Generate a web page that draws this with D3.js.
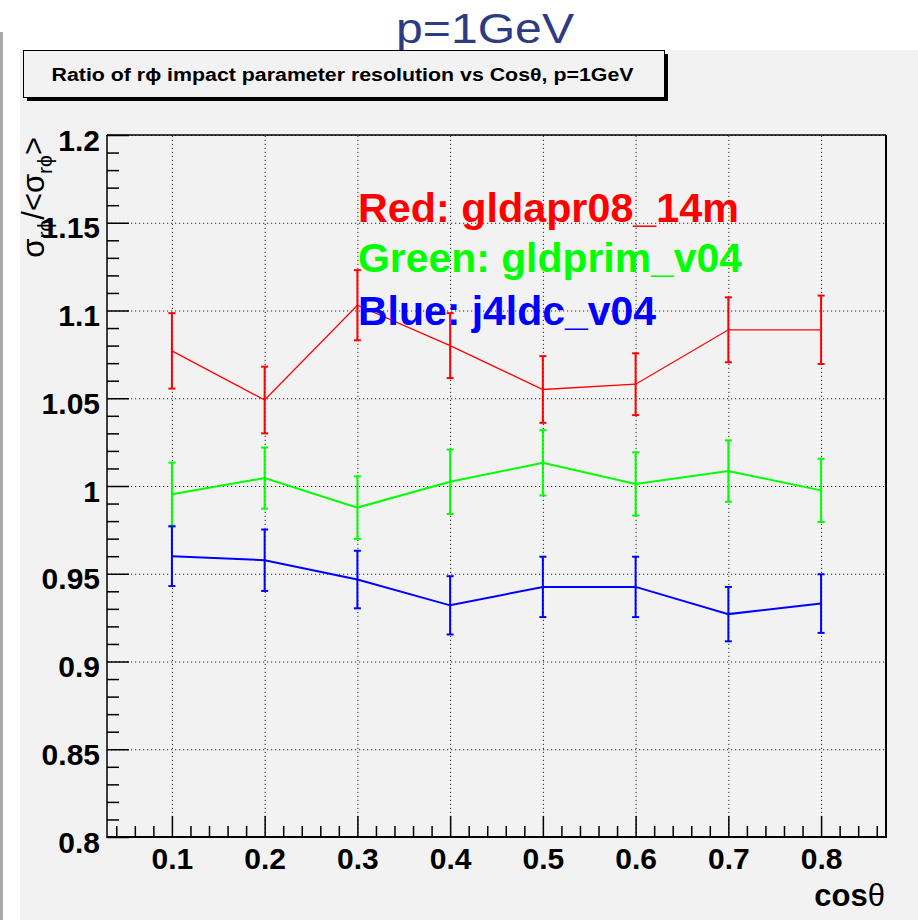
<!DOCTYPE html>
<html>
<head>
<meta charset="utf-8">
<script src="https://cdn.jsdelivr.net/npm/d3@7"></script>
<style>
  html, body { margin: 0; padding: 0; background: #ffffff; }
  svg { display: block; font-family: "Liberation Sans", Arial, Helvetica, sans-serif; }
</style>
</head>
<body>
<svg id="chart" width="918" height="920"></svg>
<script>
// ---- data ----
const cosTheta = [0.1, 0.2, 0.3, 0.4, 0.5, 0.6, 0.7, 0.8];

const redRatio   = [1.077, 1.049, 1.103, 1.080, 1.055, 1.058, 1.089, 1.089];
const redErr     = [0.0215, 0.019, 0.020, 0.0185, 0.019, 0.0176, 0.0185, 0.0195];

const greenRatio = [0.9953, 1.0045, 0.9877, 1.0024, 1.0132, 1.0012, 1.0085, 0.9975];
const greenErr   = [0.018, 0.0174, 0.0178, 0.0184, 0.0186, 0.018, 0.0175, 0.018];

const blueRatio  = [0.960, 0.9577, 0.9467, 0.932, 0.9425, 0.9425, 0.927, 0.933];
const blueErr    = [0.017, 0.0175, 0.0164, 0.0166, 0.0172, 0.0172, 0.0155, 0.0167];

const seriesNames  = ["Red: gldapr08_14m", "Green: gldprim_v04", "Blue: j4ldc_v04"];
const seriesColors = ["#ff0000", "#00ff00", "#0000ff"];

const xTicks = [0.1, 0.2, 0.3, 0.4, 0.5, 0.6, 0.7, 0.8];
const yTicks = [0.8, 0.85, 0.9, 0.95, 1.0, 1.05, 1.1, 1.15, 1.2];

const pageTitle = "p=1GeV";
const plotTitle = "Ratio of r\u03D5 impact parameter resolution vs Cos\u03B8, p=1GeV";

// ---- layout ----
const W = 918, H = 920;
const L = 107, R = 886, T = 135, B = 837;

const svg = d3.select("#chart");

// page decoration
svg.append("rect").attr("x", 0).attr("y", 32).attr("width", 3).attr("height", H - 32).attr("fill", "#a9a9a9");
svg.append("rect").attr("x", 20).attr("y", 50).attr("width", W - 20).attr("height", H - 50).attr("fill", "#f2f2f2");

svg.append("text")
  .attr("x", 485).attr("y", 43)
  .attr("text-anchor", "middle")
  .attr("font-size", 43)
  .attr("textLength", 178)
  .attr("lengthAdjust", "spacingAndGlyphs")
  .attr("fill", "#2c3b82")
  .text(pageTitle);

// scales
const x = d3.scaleLinear().domain([0.03, 0.87]).range([L, R]);
const y = d3.scaleLinear().domain([0.8, 1.2]).range([B, T]);

const fmt = d3.format("~g");
const xMinor = d3.range(2, 44).filter(i => i % 5 !== 0).map(i => i * 0.02);
const yMinor = d3.range(80, 121).filter(i => i % 5 !== 0).map(i => i / 100);

// grid (dotted)
const grid = svg.append("g").attr("class", "grid");
grid.append("g")
  .attr("transform", `translate(0,${B})`)
  .call(d3.axisBottom(x).tickValues(xTicks).tickSize(-(B - T)).tickFormat(""))
  .call(g => g.select(".domain").remove());
grid.append("g")
  .attr("transform", `translate(${L},0)`)
  .call(d3.axisLeft(y).tickValues(yTicks).tickSize(-(R - L)).tickFormat(""))
  .call(g => g.select(".domain").remove());
grid.selectAll("line")
  .attr("stroke", "#222")
  .attr("stroke-width", 1)
  .attr("stroke-dasharray", "1.2,2.8");

// y axis title (drawn beneath tick labels)
const yt = svg.append("text")
  .attr("transform", "translate(44,137) rotate(-90)")
  .attr("text-anchor", "end")
  .attr("font-size", 31)
  .attr("fill", "#000");
yt.append("tspan").text("\u03C3");
yt.append("tspan").attr("font-size", 21).attr("dy", 8).text("r\u03D5");
yt.append("tspan").attr("dy", -8).text("/<\u03C3");
yt.append("tspan").attr("font-size", 21).attr("dy", 8).text("r\u03D5");
yt.append("tspan").attr("dy", -8).text(">");

// minor ticks
svg.append("g")
  .attr("transform", `translate(0,${B})`)
  .call(d3.axisBottom(x).tickValues(xMinor).tickSize(-11).tickFormat(""))
  .call(g => g.select(".domain").remove())
  .selectAll("line").attr("stroke", "#000").attr("stroke-width", 1.5);
svg.append("g")
  .attr("transform", `translate(${L},0)`)
  .call(d3.axisLeft(y).tickValues(yMinor).tickSize(-12).tickFormat(""))
  .call(g => g.select(".domain").remove())
  .selectAll("line").attr("stroke", "#000").attr("stroke-width", 1.5);

// major ticks + labels
const xAxis = svg.append("g")
  .attr("transform", `translate(0,${B})`)
  .call(d3.axisBottom(x).tickValues(xTicks).tickSize(-21).tickPadding(0).tickFormat(fmt));
xAxis.select(".domain").remove();
xAxis.selectAll("line").attr("stroke", "#000").attr("stroke-width", 1.5);
xAxis.selectAll("text")
  .attr("y", 32).attr("dy", null)
  .attr("font-size", 30).attr("font-weight", "bold")
  .attr("font-family", "'Liberation Sans', Arial, sans-serif")
  .attr("fill", "#000");

const yAxis = svg.append("g")
  .attr("transform", `translate(${L},0)`)
  .call(d3.axisLeft(y).tickValues(yTicks).tickSize(-22).tickPadding(7).tickFormat(fmt));
yAxis.select(".domain").remove();
yAxis.selectAll("line").attr("stroke", "#000").attr("stroke-width", 1.5);
yAxis.selectAll("text")
  .attr("dy", null).attr("y", 15)
  .attr("font-size", 30).attr("font-weight", "bold")
  .attr("font-family", "'Liberation Sans', Arial, sans-serif")
  .attr("fill", "#000");

// frame
svg.append("line").attr("x1", L).attr("x2", R).attr("y1", T).attr("y2", T).attr("stroke", "#000").attr("stroke-width", 1.5);
svg.append("line").attr("x1", R).attr("x2", R).attr("y1", T).attr("y2", B).attr("stroke", "#000").attr("stroke-width", 2);
svg.append("line").attr("x1", L).attr("x2", L).attr("y1", T).attr("y2", B + 1).attr("stroke", "#000").attr("stroke-width", 1.5);
svg.append("line").attr("x1", L).attr("x2", R + 1).attr("y1", B).attr("y2", B).attr("stroke", "#000").attr("stroke-width", 2);

// x axis title
const xt = svg.append("text")
  .attr("x", 885).attr("y", 906)
  .attr("text-anchor", "end")
  .attr("font-size", 31)
  .attr("fill", "#000");
xt.append("tspan").attr("font-weight", "bold").text("cos");
xt.append("tspan").text("\u03B8");

// data series
const series = [
  { values: redRatio,   errors: redErr,   color: seriesColors[0], width: 1.3 },
  { values: greenRatio, errors: greenErr, color: seriesColors[1], width: 2 },
  { values: blueRatio,  errors: blueErr,  color: seriesColors[2], width: 2 }
];

const line = d3.line().x(d => x(d.c)).y(d => y(d.v));
const capHalf = 3.5;

series.forEach(s => {
  const pts = cosTheta.map((c, i) => ({ c, v: s.values[i], e: s.errors[i] }));
  const g = svg.append("g");
  g.append("path")
    .datum(pts)
    .attr("d", line)
    .attr("fill", "none")
    .attr("stroke", s.color)
    .attr("stroke-width", s.width);
  const eb = g.selectAll(".eb").data(pts).enter().append("g");
  eb.append("line")
    .attr("x1", d => x(d.c)).attr("x2", d => x(d.c))
    .attr("y1", d => y(d.v - d.e)).attr("y2", d => y(d.v + d.e))
    .attr("stroke", s.color).attr("stroke-width", 2);
  eb.append("line")
    .attr("x1", d => x(d.c) - capHalf).attr("x2", d => x(d.c) + capHalf)
    .attr("y1", d => y(d.v + d.e)).attr("y2", d => y(d.v + d.e))
    .attr("stroke", s.color).attr("stroke-width", 2);
  eb.append("line")
    .attr("x1", d => x(d.c) - capHalf).attr("x2", d => x(d.c) + capHalf)
    .attr("y1", d => y(d.v - d.e)).attr("y2", d => y(d.v - d.e))
    .attr("stroke", s.color).attr("stroke-width", 2);
});

// legend lines of text
const legendY = [222, 272, 325];
const legendWidth = [381, 384, 298];
seriesNames.forEach((name, i) => {
  svg.append("text")
    .attr("x", 358).attr("y", legendY[i])
    .attr("font-size", 40)
    .attr("font-weight", "bold")
    .attr("textLength", legendWidth[i])
    .attr("lengthAdjust", "spacingAndGlyphs")
    .attr("fill", seriesColors[i])
    .text(name);
});

// title box with drop shadow
svg.append("rect").attr("x", 27).attr("y", 54).attr("width", 641).attr("height", 47).attr("fill", "#000");
svg.append("rect").attr("x", 23.5).attr("y", 50.5).attr("width", 641).attr("height", 47)
  .attr("fill", "#f2f2f2").attr("stroke", "#000").attr("stroke-width", 1);
svg.append("text")
  .attr("x", 342.5).attr("y", 81)
  .attr("text-anchor", "middle")
  .attr("font-size", 18)
  .attr("font-weight", "bold")
  .attr("textLength", 582)
  .attr("lengthAdjust", "spacingAndGlyphs")
  .attr("fill", "#000")
  .text(plotTitle);
</script>
</body>
</html>
